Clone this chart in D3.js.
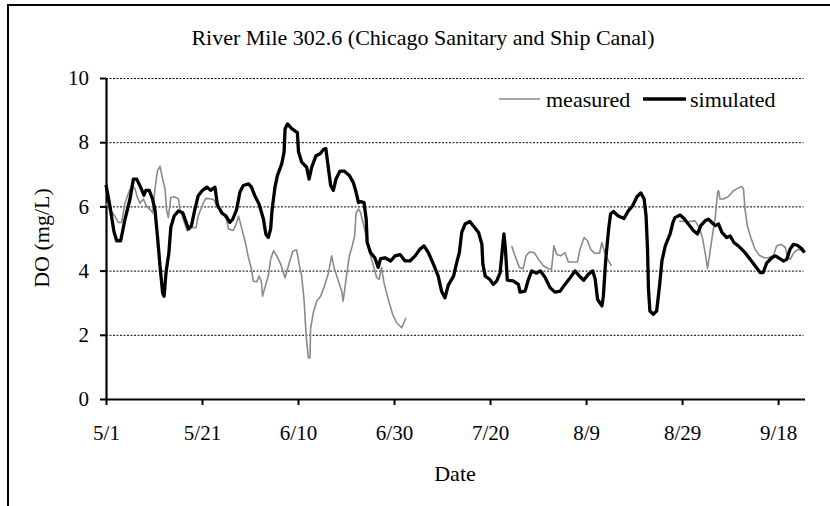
<!DOCTYPE html>
<html>
<head>
<meta charset="utf-8">
<script src="https://cdn.jsdelivr.net/npm/d3@7"></script>
<style>
  body { margin: 0; background: #fff; }
  text { font-family: "Liberation Serif", "Times New Roman", serif; fill: #000; }
</style>
</head>
<body>
<div id="chart"></div>
<script>
// days after 5/1 and DO values
var simDay = [0, 0.83, 1.67, 2.22, 3.06, 3.96, 5.0, 5.7, 6.4, 7.2, 7.9, 8.3, 9.0, 9.7, 10.2, 10.7, 11.25, 11.8, 12.1, 12.5,
  13.1, 13.5, 14.2, 15.1, 16.0, 16.7, 17.2, 17.8, 18.5, 19.2, 20.1, 21.0, 21.8, 22.7, 23.2, 24.1, 25.0, 25.8, 26.4, 27.2,
  27.9, 28.6, 29.7, 30.3, 31.0, 31.9, 32.8, 33.3, 33.8, 34.3, 34.6, 35.2, 35.7, 36.6, 37.1, 37.3, 37.8, 38.7, 39.86, 40.1,
  40.76, 41.8, 42.3, 42.85, 43.75, 44.6, 45.3, 45.8, 46.3, 46.8, 47.36, 47.9, 48.75, 49.6, 50.7, 51.5, 52.1, 52.6, 53.05, 53.75,
  54.2, 54.4, 55.1, 56.0, 56.7, 57.2, 58.1, 59.3, 60.2, 61.25, 62.3, 63.3, 64.4, 65.4, 66.25, 67.15, 68.2, 69.2, 69.9, 70.6,
  71.3, 72.4, 73.05, 73.6, 74.1, 74.8, 75.8, 76.5, 77.6, 78.3, 78.5, 79.0, 79.9, 80.7, 81.4, 82.1, 82.7, 82.9, 83.2, 83.6,
  84.8, 85.9, 86.25, 87.3, 88.0, 88.7, 89.7, 90.5, 91.5, 92.5, 93.5, 94.6, 95.6, 96.7, 97.7, 98.6, 99.5, 100.5, 101.4, 101.9,
  102.4, 103.3, 103.6, 104.1, 104.7, 105.1, 105.7, 106.7, 107.9, 108.8, 109.7, 110.6, 111.4, 112.1, 112.5, 112.8, 113.0, 113.3, 114.0, 114.7,
  115.3, 115.8, 116.5, 117.5, 118.1, 118.5, 119.6, 120.4, 121.3, 122.4, 123.2, 123.9, 124.8, 125.5, 126.2, 126.9, 127.6, 128.3, 129.3, 130.0,
  130.8, 131.7, 132.4, 133.1, 134.2, 135.2, 136.25, 136.9, 137.6, 138.7, 139.4, 140.1, 141.1, 141.8, 142.5, 143.2, 144.0, 144.9, 145.5];
var simDO = [6.67, 6.0, 5.2, 4.93, 4.93, 5.6, 6.23, 6.85, 6.85, 6.6, 6.35, 6.5, 6.5, 6.23, 5.9, 5.1, 4.15, 3.3, 3.2, 3.94,
  4.56, 5.35, 5.7, 5.86, 5.8, 5.5, 5.3, 5.4, 5.9, 6.33, 6.5, 6.6, 6.5, 6.6, 6.05, 5.8, 5.7, 5.5, 5.6, 5.9,
  6.45, 6.65, 6.7, 6.6, 6.33, 6.07, 5.6, 5.13, 5.03, 5.3, 5.9, 6.6, 6.96, 7.32, 7.7, 8.42, 8.57, 8.42, 8.3, 7.7,
  7.38, 7.22, 6.85, 7.22, 7.58, 7.64, 7.77, 7.8, 7.22, 6.65, 6.5, 6.85, 7.1, 7.1, 6.96, 6.75, 6.44, 6.12, 6.15, 6.12,
  5.6, 4.88, 4.56, 4.4, 4.1, 4.375, 4.4, 4.3, 4.46, 4.5, 4.3, 4.3, 4.46, 4.67, 4.77, 4.56, 4.2, 3.83, 3.36, 3.15,
  3.55, 3.83, 4.25, 4.56, 5.19, 5.45, 5.53, 5.4, 5.19, 4.82, 4.2, 3.83, 3.73, 3.57, 3.68, 3.94, 4.875, 5.14, 4.67, 3.7,
  3.68, 3.57, 3.33, 3.36, 3.73, 3.99, 3.92, 3.99, 3.78, 3.47, 3.33, 3.36, 3.57, 3.78, 3.99, 3.83, 3.7, 3.89, 3.99, 3.73,
  3.1, 2.9, 3.2, 4.35, 5.29, 5.76, 5.84, 5.7, 5.625, 5.86, 6.02, 6.3, 6.42, 6.23, 5.7, 4.67, 3.42, 2.74, 2.64, 2.74,
  3.52, 4.3, 4.77, 5.14, 5.5, 5.65, 5.73, 5.625, 5.45, 5.24, 5.14, 5.4, 5.55, 5.6, 5.5, 5.4, 5.45, 5.19, 5.03, 5.08,
  4.875, 4.77, 4.67, 4.56, 4.35, 4.15, 3.94, 3.94, 4.23, 4.4, 4.46, 4.4, 4.3, 4.35, 4.67, 4.82, 4.79, 4.69, 4.56];

// measured: null marks a gap in the record
var measDay = [0, 0.83, 1.85, 2.57, 3.26, 3.96, 4.65, 5.35, 6.04, 6.53, 7.08, 7.78, 8.47, 9.17, 9.72, 10.2, 10.7, 11.25, 11.8, 12.3,
  12.6, 12.99, 13.5, 14.2, 15.1, 15.4, 16.1, 16.9, 17.8, 18.75, 19.2, 20.3, 20.8, 22.0, 22.5, 23.2, 24.3, 25.1, 25.5, 26.5,
  27.1, 27.6, 28.3, 29.0, 29.6, 30.3, 30.7, 31.4, 31.9, 32.4, 32.6, 33.1, 33.8, 34.3, 34.9, 35.6, 36.4, 37.3, 38.0, 38.9,
  39.7, 40.3, 40.76, 41.25, 41.7, 42.15, 42.5, 42.6, 43.2, 43.9, 44.7, 45.4, 46.3, 47.0, 47.5, 48.4, 49.1, 49.4, 50.0, 50.7,
  51.3, 51.8, 52.1, 52.6, 53.05, 53.95, 54.85, 55.7, 56.4, 56.9, 57.4, 57.9, 58.8, 59.7, 60.55, 61.6, 62.5, 70,
  84.5, 85.2, 86.1, 86.9, 87.5, 88.2, 89.2, 90.1, 91.1, 92.2, 92.8, 93.3, 93.9, 94.7, 95.6, 96.3, 97.4, 98.2, 98.75, 99.6,
  100.3, 101.0, 101.9, 102.8, 103.3, 104.0, 104.7, 105.3, 110,
  119.4, 121.0, 122.7, 123.6, 124.3, 124.8, 125.3, 125.7, 126.2, 126.9, 127.4, 127.6, 127.9, 128.6, 129.6, 130.7, 131.7, 132.4, 132.8, 133.1,
  133.6, 134.3, 135.2, 136.1, 137.1, 138.0, 139.0, 139.7, 140.6, 141.5, 141.9, 142.5, 143.3, 144.2, 145.2];
var measDO = [6.1, 5.9, 5.7, 5.5, 5.5, 6.1, 6.4, 6.65, 6.55, 6.28, 6.1, 6.23, 6.0, 5.9, 5.8, 6.55, 7.1, 7.25, 6.85, 6.55,
  5.9, 5.65, 6.28, 6.3, 6.23, 5.9, 5.6, 5.24, 5.34, 5.34, 5.7, 6.12, 6.25, 6.23, 6.2, 5.97, 5.8, 5.6, 5.3, 5.25,
  5.45, 5.7, 5.3, 4.9, 4.45, 4.04, 3.67, 3.65, 3.83, 3.62, 3.2, 3.47, 3.83, 4.35, 4.62, 4.45, 4.2, 3.78, 4.15, 4.6,
  4.65, 4.15, 3.83, 3.1, 1.96, 1.28, 1.28, 2.17, 2.7, 3.05, 3.2, 3.47, 3.9, 4.46, 4.1, 3.68, 3.36, 3.05, 3.73, 4.46,
  4.77, 5.08, 5.8, 5.92, 5.8, 5.24, 4.6, 4.15, 3.78, 3.73, 4.1, 3.625, 3.1, 2.64, 2.375, 2.22, 2.53, null,
  4.77, 4.46, 4.1, 4.06, 4.46, 4.58, 4.56, 4.35, 4.15, 4.06, 4.04, 4.77, 4.5, 4.46, 4.56, 4.27, 4.27, 4.27, 4.67, 5.03,
  4.93, 4.65, 4.54, 4.54, 4.875, 4.5, 4.3, 4.15, null,
  5.54, 5.52, 5.55, 5.34, 4.98, 4.56, 4.06, 4.46, 4.98, 5.65, 6.44, 6.49, 6.23, 6.23, 6.3, 6.49, 6.57, 6.625, 6.54, 5.92,
  5.4, 5.03, 4.67, 4.48, 4.4, 4.4, 4.46, 4.77, 4.82, 4.72, 4.46, 4.35, 4.56, 4.67, 4.6];

var tickDates = ["5/1", "5/21", "6/10", "6/30", "7/20", "8/9", "8/29", "9/18"];
var yTicks = [0, 2, 4, 6, 8, 10];

var W = 830, H = 506;
var margin = { top: 78, right: 26, bottom: 107, left: 106 };
var width = 804.5 - margin.left, height = 399 - margin.top;

var start = new Date(2001, 4, 1);
function dayToDate(d) { return new Date(start.getTime() + d * 86400000); }
var parseMD = function (s) { var p = s.split("/"); return new Date(2001, +p[0] - 1, +p[1]); };

var svg = d3.select("#chart").append("svg")
  .attr("width", W).attr("height", H);

// outer chart frame (cut off at right and bottom)
svg.append("rect")
  .attr("x", 8).attr("y", 5).attr("width", 900).attr("height", 600)
  .attr("fill", "none").attr("stroke", "#000").attr("stroke-width", 2);

var g = svg.append("g").attr("transform", "translate(" + margin.left + "," + margin.top + ")");

var x = d3.scaleTime().domain([start, dayToDate(145.5)]).range([0, width]);
var y = d3.scaleLinear().domain([0, 10]).range([height, 0]);

// dashed gridlines
g.append("g").selectAll("line")
  .data(yTicks.filter(function (d) { return d > 0; }))
  .enter().append("line")
  .attr("x1", 0).attr("x2", width - 1)
  .attr("y1", function (d) { return y(d) + 0.5; })
  .attr("y2", function (d) { return y(d) + 0.5; })
  .attr("stroke", "#000").attr("stroke-width", 1)
  .attr("stroke-dasharray", "2,1.5");

// axes
var xAxis = g.append("g")
  .attr("transform", "translate(0," + height + ")")
  .call(d3.axisBottom(x).tickValues(tickDates.map(parseMD))
    .tickFormat(d3.timeFormat("%-m/%-d")).tickSize(6).tickSizeOuter(0).tickPadding(20));
var yAxis = g.append("g")
  .call(d3.axisLeft(y).tickValues(yTicks).tickSize(6).tickSizeOuter(0).tickPadding(11));

[xAxis, yAxis].forEach(function (a) {
  a.select(".domain").attr("stroke", "#000").attr("stroke-width", 2.2);
  a.selectAll(".tick line").attr("stroke", "#000").attr("stroke-width", 2);
  a.selectAll(".tick text").style("font-family", "'Liberation Serif', serif").style("font-size", "21px").attr("fill", "#000");
});

// lines
var line = d3.line()
  .defined(function (d) { return d[1] !== null; })
  .x(function (d) { return x(dayToDate(d[0])); })
  .y(function (d) { return y(d[1]); });

var meas = measDay.map(function (d, i) { return [d, measDO[i]]; });
var sim = simDay.map(function (d, i) { return [d, simDO[i]]; });

g.append("path").datum(meas)
  .attr("d", line).attr("fill", "none")
  .attr("stroke", "#8a8a8a").attr("stroke-width", 1.6).attr("stroke-linejoin", "round");
g.append("path").datum(sim)
  .attr("d", line).attr("fill", "none")
  .attr("stroke", "#000").attr("stroke-width", 3.3).attr("stroke-linejoin", "round");

// title and axis titles
svg.append("text").attr("x", 423).attr("y", 45).attr("text-anchor", "middle")
  .style("font-size", "22px").text("River Mile 302.6 (Chicago Sanitary and Ship Canal)");
svg.append("text").attr("x", 455).attr("y", 481).attr("text-anchor", "middle")
  .style("font-size", "22px").text("Date");
svg.append("text").attr("transform", "translate(49,238) rotate(-90)").attr("text-anchor", "middle")
  .style("font-size", "22px").text("DO (mg/L)");

// handmade legend
svg.append("line").attr("x1", 499).attr("x2", 540).attr("y1", 99).attr("y2", 99)
  .attr("stroke", "#8a8a8a").attr("stroke-width", 1.6);
svg.append("text").attr("x", 546).attr("y", 106.5).style("font-size", "22px").text("measured");
svg.append("line").attr("x1", 643).attr("x2", 686).attr("y1", 99).attr("y2", 99)
  .attr("stroke", "#000").attr("stroke-width", 3.5);
svg.append("text").attr("x", 690).attr("y", 106.5).style("font-size", "22px").text("simulated");
</script>
</body>
</html>
